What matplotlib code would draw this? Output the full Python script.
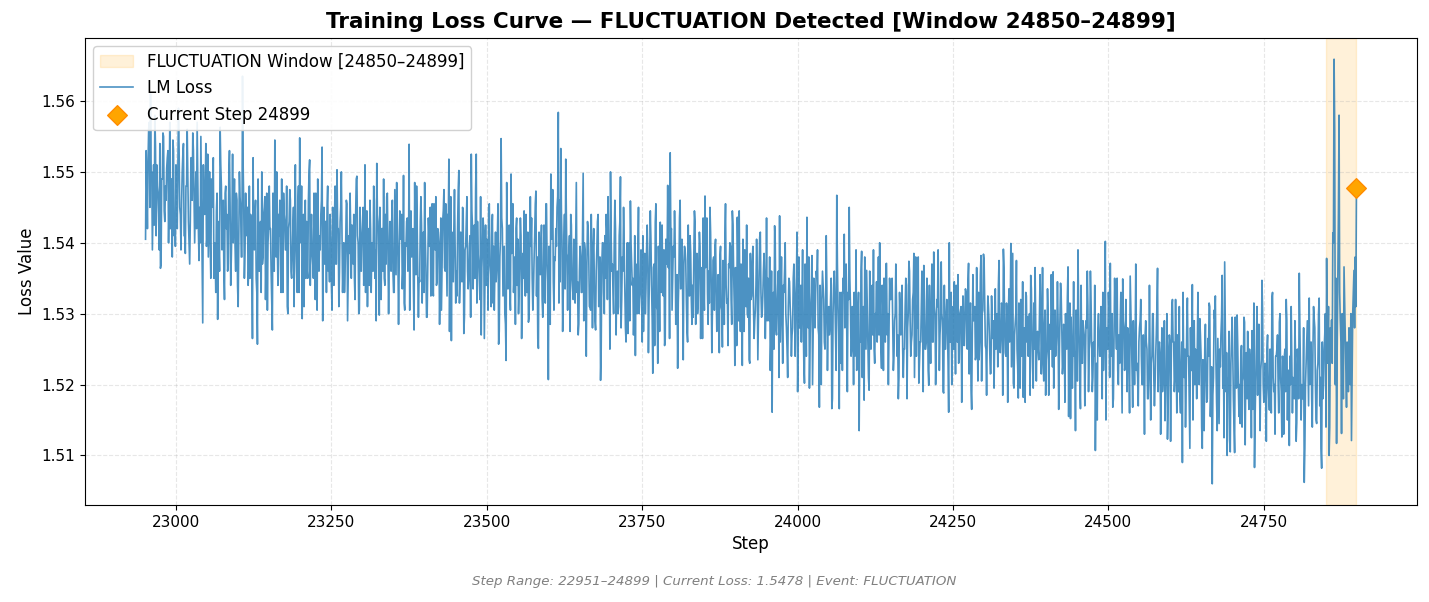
import numpy as np
import matplotlib
matplotlib.use("Agg")
import matplotlib.pyplot as plt

step_start = 22951
step_end = 24899
window_start = 24850
window_end = 24899
current_step = 24899
current_loss = 1.5478
event_name = "FLUCTUATION"

# readings at steps 22951, 22955, 22959, ... (every 4th step)
loss_part1 = [
    1.5405, 1.5515, 1.5610, 1.5455, 1.5535, 1.5470, 1.5364, 1.5555, 1.5480, 1.5530,
    1.5420, 1.5545, 1.5395, 1.5510, 1.5440, 1.5525, 1.5385, 1.5500, 1.5430, 1.5555,
    1.5450, 1.5495, 1.5400, 1.5287, 1.5470,
    1.5525, 1.5400, 1.5480, 1.5380, 1.5292, 1.5563, 1.5410, 1.5470, 1.5360, 1.5455,
    1.5525, 1.5395, 1.5340, 1.5465, 1.5635, 1.5385, 1.5450, 1.5350, 1.5265, 1.5440,
    1.5257, 1.5420, 1.5370, 1.5465, 1.5305,
    1.5420, 1.5277, 1.5545, 1.5395, 1.5460, 1.5350, 1.5430, 1.5310, 1.5475, 1.5380,
    1.5445, 1.5330, 1.5548, 1.5293, 1.5420, 1.5360, 1.5517, 1.5385, 1.5440, 1.5305,
    1.5410, 1.5535, 1.5370, 1.5450, 1.5345,
    1.5305, 1.5440, 1.5503, 1.5360, 1.5420, 1.5330, 1.5455, 1.5385, 1.5425, 1.5350,
    1.5494, 1.5305, 1.5410, 1.5365, 1.5445, 1.5340, 1.5400, 1.5460, 1.5512, 1.5298,
    1.5420, 1.5350, 1.5465, 1.5375, 1.5430,
]
loss_part2 = [
    1.5330, 1.5485, 1.5360, 1.5440, 1.5315, 1.5430, 1.5539, 1.5380, 1.5277, 1.5480,
    1.5350, 1.5425, 1.5330, 1.5295, 1.5410, 1.5365, 1.5455, 1.5340, 1.5400, 1.5305,
    1.5475, 1.5385, 1.5518, 1.5262, 1.5420,
    1.5360, 1.5502, 1.5380, 1.5272, 1.5430, 1.5350, 1.5525, 1.5395, 1.5525, 1.5370,
    1.5270, 1.5415, 1.5340, 1.5450, 1.5310, 1.5395, 1.5345, 1.5257, 1.5547, 1.5360,
    1.5234, 1.5405, 1.5497, 1.5330, 1.5420,
    1.5300, 1.5410, 1.5350, 1.5440, 1.5288, 1.5395, 1.5330, 1.5473, 1.5251, 1.5400,
    1.5340, 1.5455, 1.5207, 1.5497, 1.5345, 1.5420, 1.5584, 1.5533, 1.5330, 1.5518,
    1.5380, 1.5440, 1.5320, 1.5400, 1.5270,
    1.5380, 1.5498, 1.5340, 1.5420, 1.5305, 1.5390, 1.5277, 1.5440, 1.5206, 1.5400,
    1.5350, 1.5465, 1.5500, 1.5330, 1.5420, 1.5300, 1.5493, 1.5360, 1.5280, 1.5272,
    1.5459, 1.5350, 1.5241, 1.5390, 1.5330,
]
loss_part3 = [
    1.5410, 1.5300, 1.5380, 1.5445, 1.5216, 1.5429, 1.5230, 1.5429, 1.5330, 1.5264,
    1.5481, 1.5527, 1.5350, 1.5400, 1.5223, 1.5460, 1.5330, 1.5390, 1.5260, 1.5410,
    1.5340, 1.5430, 1.5300, 1.5395, 1.5265,
    1.5466, 1.5330, 1.5450, 1.5310, 1.5395, 1.5290, 1.5380, 1.5253, 1.5410, 1.5320,
    1.5400, 1.5445, 1.5227, 1.5436, 1.5320, 1.5227, 1.5390, 1.5300, 1.5230, 1.5370,
    1.5290, 1.5360, 1.5408, 1.5300, 1.5350,
    1.5290, 1.5380, 1.5161, 1.5424, 1.5310, 1.5438, 1.5290, 1.5360, 1.5250, 1.5345,
    1.5270, 1.5330, 1.5415, 1.5280, 1.5330, 1.5202, 1.5436, 1.5195, 1.5382, 1.5300,
    1.5350, 1.5168, 1.5320, 1.5260, 1.5340,
    1.5270, 1.5166, 1.5360, 1.5467, 1.5166, 1.5330, 1.5412, 1.5280, 1.5450, 1.5250,
    1.5330, 1.5220, 1.5135, 1.5388, 1.5178, 1.5361, 1.5192, 1.5320, 1.5250, 1.5345,
    1.5270, 1.5223, 1.5350, 1.5371, 1.5280,
    1.5330, 1.5240, 1.5320, 1.5210, 1.5300, 1.5250, 1.5340, 1.5374, 1.5260, 1.5385,
    1.5240, 1.5202, 1.5310, 1.5368, 1.5260, 1.5199, 1.5300, 1.5387, 1.5250, 1.5320,
    1.5373, 1.5188, 1.5300, 1.5161, 1.5330,
]
loss_part4 = [
    1.5250, 1.5340, 1.5230, 1.5310, 1.5260, 1.5330, 1.5371, 1.5192, 1.5290, 1.5240,
    1.5330, 1.5382, 1.5384, 1.5250, 1.5310, 1.5216, 1.5290, 1.5250, 1.5340, 1.5270,
    1.5391, 1.5240, 1.5300, 1.5399, 1.5202,
    1.5300, 1.5181, 1.5320, 1.5182, 1.5330, 1.5240, 1.5354, 1.5195, 1.5290, 1.5250,
    1.5310, 1.5230, 1.5185, 1.5300, 1.5250, 1.5359, 1.5240, 1.5290, 1.5343, 1.5230,
    1.5300, 1.5366, 1.5152, 1.5260, 1.5135,
    1.5390, 1.5166, 1.5290, 1.5230, 1.5310, 1.5360, 1.5210, 1.5107, 1.5280, 1.5240,
    1.5330, 1.5402, 1.5250, 1.5371, 1.5168, 1.5300, 1.5220, 1.5290, 1.5349, 1.5230,
    1.5280, 1.5353, 1.5168, 1.5260, 1.5210,
    1.5290, 1.5200, 1.5270, 1.5180, 1.5250, 1.5300, 1.5200, 1.5364, 1.5240, 1.5190,
    1.5149, 1.5123, 1.5260, 1.5320, 1.5210, 1.5270, 1.5180, 1.5090, 1.5250, 1.5322,
    1.5110, 1.5341, 1.5200, 1.5260, 1.5293,
]
loss_part5 = [
    1.5110, 1.5250, 1.5180, 1.5310, 1.5060, 1.5293, 1.5135, 1.5250, 1.5354, 1.5373,
    1.5100, 1.5121, 1.5295, 1.5104, 1.5298, 1.5200, 1.5140, 1.5288, 1.5180, 1.5250,
    1.5276, 1.5083, 1.5310, 1.5200, 1.5347,
    1.5180, 1.5250, 1.5164, 1.5322, 1.5200, 1.5250, 1.5288, 1.5126, 1.5240, 1.5291,
    1.5114, 1.5230, 1.5180, 1.5146, 1.5357, 1.5200, 1.5062, 1.5260, 1.5322, 1.5180,
    1.5293, 1.5145, 1.5322, 1.5082, 1.5250,
    1.5378, 1.5100, 1.5291, 1.5659, 1.5117, 1.5580, 1.5131, 1.5366, 1.5168, 1.5280,
    1.5121, 1.5361, 1.5478,
]

# readings at steps 22953, 22957, 22961, ... (every 4th step)
loss_mid1 = [
    1.5480, 1.5570, 1.5500, 1.5425, 1.5510, 1.5390, 1.5490, 1.5445, 1.5505, 1.5460,
    1.5490, 1.5410, 1.5470, 1.5530, 1.5455, 1.5410, 1.5480, 1.5400, 1.5520, 1.5470,
    1.5420, 1.5375, 1.5460, 1.5450, 1.5395,
    1.5440, 1.5490, 1.5350, 1.5445, 1.5400, 1.5480, 1.5360, 1.5420, 1.5500, 1.5380,
    1.5440, 1.5470, 1.5400, 1.5380, 1.5450, 1.5420, 1.5360, 1.5430, 1.5395, 1.5350,
    1.5410, 1.5330, 1.5440, 1.5380, 1.5420,
    1.5360, 1.5430, 1.5380, 1.5440, 1.5330, 1.5470, 1.5390, 1.5420, 1.5360, 1.5450,
    1.5400, 1.5480, 1.5400, 1.5440, 1.5350, 1.5460, 1.5410, 1.5350, 1.5470, 1.5390,
    1.5440, 1.5400, 1.5430, 1.5360, 1.5400,
    1.5400, 1.5370, 1.5420, 1.5450, 1.5370, 1.5400, 1.5350, 1.5420, 1.5370, 1.5440,
    1.5400, 1.5380, 1.5450, 1.5330, 1.5390, 1.5420, 1.5360, 1.5390, 1.5430, 1.5400,
    1.5360, 1.5440, 1.5380, 1.5420, 1.5360,
]
loss_mid2 = [
    1.5410, 1.5380, 1.5420, 1.5360, 1.5400, 1.5360, 1.5440, 1.5420, 1.5380, 1.5350,
    1.5430, 1.5380, 1.5410, 1.5370, 1.5450, 1.5340, 1.5390, 1.5420, 1.5350, 1.5430,
    1.5360, 1.5440, 1.5380, 1.5350, 1.5390,
    1.5420, 1.5350, 1.5450, 1.5390, 1.5360, 1.5410, 1.5420, 1.5350, 1.5430, 1.5320,
    1.5390, 1.5350, 1.5400, 1.5370, 1.5440, 1.5360, 1.5410, 1.5380, 1.5420, 1.5300,
    1.5380, 1.5330, 1.5420, 1.5380, 1.5340,
    1.5380, 1.5340, 1.5400, 1.5330, 1.5380, 1.5350, 1.5410, 1.5380, 1.5360, 1.5320,
    1.5390, 1.5370, 1.5350, 1.5420, 1.5380, 1.5450, 1.5460, 1.5400, 1.5440, 1.5370,
    1.5410, 1.5350, 1.5390, 1.5330, 1.5360,
    1.5330, 1.5400, 1.5370, 1.5310, 1.5380, 1.5340, 1.5390, 1.5320, 1.5370, 1.5300,
    1.5420, 1.5380, 1.5360, 1.5400, 1.5350, 1.5410, 1.5320, 1.5390, 1.5340, 1.5400,
    1.5370, 1.5310, 1.5360, 1.5300, 1.5380,
]
loss_mid3 = [
    1.5350, 1.5390, 1.5320, 1.5340, 1.5370, 1.5310, 1.5360, 1.5330, 1.5390, 1.5370,
    1.5400, 1.5420, 1.5380, 1.5310, 1.5350, 1.5380, 1.5370, 1.5320, 1.5360, 1.5320,
    1.5380, 1.5350, 1.5370, 1.5320, 1.5340,
    1.5380, 1.5360, 1.5340, 1.5380, 1.5330, 1.5350, 1.5310, 1.5360, 1.5340, 1.5370,
    1.5320, 1.5360, 1.5340, 1.5290, 1.5370, 1.5330, 1.5310, 1.5350, 1.5320, 1.5310,
    1.5340, 1.5300, 1.5330, 1.5360, 1.5310,
    1.5330, 1.5260, 1.5330, 1.5280, 1.5360, 1.5320, 1.5340, 1.5300, 1.5310, 1.5290,
    1.5350, 1.5300, 1.5260, 1.5340, 1.5290, 1.5330, 1.5280, 1.5310, 1.5270, 1.5330,
    1.5280, 1.5290, 1.5340, 1.5300, 1.5290,
    1.5320, 1.5300, 1.5270, 1.5310, 1.5260, 1.5350, 1.5300, 1.5330, 1.5310, 1.5290,
    1.5270, 1.5300, 1.5260, 1.5300, 1.5320, 1.5260, 1.5290, 1.5270, 1.5300, 1.5310,
    1.5290, 1.5310, 1.5260, 1.5300, 1.5320,
    1.5280, 1.5300, 1.5270, 1.5290, 1.5250, 1.5310, 1.5280, 1.5290, 1.5320, 1.5300,
    1.5280, 1.5260, 1.5290, 1.5250, 1.5310, 1.5270, 1.5260, 1.5300, 1.5310, 1.5270,
    1.5290, 1.5250, 1.5280, 1.5260, 1.5290,
]
loss_mid4 = [
    1.5290, 1.5260, 1.5300, 1.5270, 1.5300, 1.5250, 1.5290, 1.5270, 1.5310, 1.5280,
    1.5260, 1.5300, 1.5310, 1.5270, 1.5250, 1.5290, 1.5270, 1.5300, 1.5260, 1.5310,
    1.5280, 1.5290, 1.5260, 1.5300, 1.5270,
    1.5250, 1.5270, 1.5240, 1.5280, 1.5260, 1.5300, 1.5270, 1.5250, 1.5270, 1.5300,
    1.5260, 1.5280, 1.5250, 1.5270, 1.5300, 1.5260, 1.5280, 1.5240, 1.5280, 1.5270,
    1.5250, 1.5270, 1.5230, 1.5240, 1.5270,
    1.5260, 1.5240, 1.5270, 1.5280, 1.5250, 1.5260, 1.5240, 1.5230, 1.5270, 1.5290,
    1.5260, 1.5280, 1.5300, 1.5240, 1.5260, 1.5250, 1.5270, 1.5240, 1.5280, 1.5260,
    1.5230, 1.5260, 1.5240, 1.5220, 1.5260,
    1.5240, 1.5230, 1.5260, 1.5220, 1.5230, 1.5210, 1.5270, 1.5250, 1.5220, 1.5230,
    1.5200, 1.5250, 1.5230, 1.5260, 1.5240, 1.5190, 1.5220, 1.5230, 1.5200, 1.5240,
    1.5220, 1.5250, 1.5230, 1.5210, 1.5240,
]
loss_mid5 = [
    1.5200, 1.5220, 1.5240, 1.5190, 1.5210, 1.5230, 1.5200, 1.5270, 1.5240, 1.5190,
    1.5210, 1.5230, 1.5180, 1.5220, 1.5200, 1.5240, 1.5210, 1.5220, 1.5200, 1.5230,
    1.5180, 1.5210, 1.5240, 1.5220, 1.5200,
    1.5220, 1.5200, 1.5230, 1.5210, 1.5240, 1.5200, 1.5210, 1.5230, 1.5190, 1.5220,
    1.5200, 1.5210, 1.5240, 1.5230, 1.5220, 1.5180, 1.5200, 1.5230, 1.5210, 1.5250,
    1.5200, 1.5230, 1.5210, 1.5180, 1.5300,
    1.5230, 1.5280, 1.5414, 1.5200, 1.5350, 1.5290, 1.5220, 1.5280, 1.5248, 1.5200,
    1.5300, 1.5380,
]

# readings at the even steps 22952, 22954, 22956, ... (every 2nd step)
loss_even1 = [
    1.5530, 1.5420, 1.5560, 1.5450, 1.5500, 1.5390, 1.5510, 1.5580, 1.5410, 1.5480,
    1.5440, 1.5540, 1.5370, 1.5490, 1.5550, 1.5430, 1.5460, 1.5520, 1.5400, 1.5570,
    1.5490, 1.5380, 1.5530, 1.5440, 1.5510, 1.5420, 1.5590, 1.5450, 1.5390, 1.5500,
    1.5540, 1.5410, 1.5480, 1.5560, 1.5430, 1.5370, 1.5520, 1.5460, 1.5530, 1.5400,
    1.5500, 1.5570, 1.5420, 1.5450, 1.5550, 1.5380, 1.5510, 1.5440, 1.5540, 1.5410,
    1.5380, 1.5500, 1.5350, 1.5450, 1.5520, 1.5400, 1.5330, 1.5470, 1.5430, 1.5360,
    1.5510, 1.5390, 1.5460, 1.5320, 1.5480, 1.5440, 1.5370, 1.5530, 1.5340, 1.5430,
    1.5400, 1.5490, 1.5360, 1.5460, 1.5310, 1.5500, 1.5450, 1.5380, 1.5510, 1.5350,
    1.5470, 1.5410, 1.5340, 1.5480, 1.5440, 1.5370, 1.5520, 1.5390, 1.5460, 1.5330,
    1.5490, 1.5360, 1.5430, 1.5500, 1.5380, 1.5450, 1.5320, 1.5470, 1.5400, 1.5480,
    1.5420, 1.5320, 1.5470, 1.5360, 1.5450, 1.5500, 1.5340, 1.5410, 1.5370, 1.5490,
    1.5330, 1.5440, 1.5390, 1.5480, 1.5300, 1.5430, 1.5460, 1.5350, 1.5420, 1.5310,
    1.5510, 1.5360, 1.5450, 1.5330, 1.5410, 1.5480, 1.5380, 1.5310, 1.5460, 1.5430,
    1.5350, 1.5500, 1.5340, 1.5440, 1.5370, 1.5470, 1.5320, 1.5420, 1.5490, 1.5360,
    1.5390, 1.5460, 1.5290, 1.5450, 1.5430, 1.5330, 1.5480, 1.5380, 1.5440, 1.5340,
    1.5450, 1.5340, 1.5480, 1.5370, 1.5420, 1.5310, 1.5430, 1.5500, 1.5330, 1.5400,
    1.5360, 1.5460, 1.5290, 1.5410, 1.5470, 1.5350, 1.5380, 1.5440, 1.5320, 1.5490,
    1.5410, 1.5300, 1.5450, 1.5360, 1.5430, 1.5340, 1.5510, 1.5370, 1.5310, 1.5420,
    1.5460, 1.5330, 1.5400, 1.5480, 1.5350, 1.5290, 1.5440, 1.5380, 1.5450, 1.5320,
    1.5420, 1.5490, 1.5340, 1.5370, 1.5470, 1.5300, 1.5430, 1.5360, 1.5460, 1.5330,
]
loss_even2 = [
    1.5475, 1.5355, 1.5425, 1.5285, 1.5445, 1.5405, 1.5335, 1.5495, 1.5305, 1.5395,
    1.5435, 1.5375, 1.5305, 1.5445, 1.5405, 1.5335, 1.5485, 1.5355, 1.5425, 1.5295,
    1.5345, 1.5465, 1.5315, 1.5415, 1.5485, 1.5365, 1.5295, 1.5435, 1.5395, 1.5325,
    1.5455, 1.5325, 1.5395, 1.5465, 1.5345, 1.5415, 1.5285, 1.5435, 1.5365, 1.5445,
    1.5365, 1.5455, 1.5325, 1.5425, 1.5275, 1.5465, 1.5415, 1.5345, 1.5475, 1.5315,
    1.5325, 1.5475, 1.5315, 1.5415, 1.5345, 1.5445, 1.5295, 1.5395, 1.5465, 1.5335,
    1.5395, 1.5295, 1.5445, 1.5335, 1.5425, 1.5475, 1.5315, 1.5385, 1.5345, 1.5465,
    1.5365, 1.5435, 1.5265, 1.5425, 1.5405, 1.5305, 1.5455, 1.5355, 1.5415, 1.5315,
    1.5305, 1.5415, 1.5365, 1.5455, 1.5275, 1.5405, 1.5435, 1.5325, 1.5395, 1.5285,
    1.5485, 1.5335, 1.5425, 1.5305, 1.5385, 1.5455, 1.5355, 1.5285, 1.5435, 1.5405,
    1.5335, 1.5435, 1.5265, 1.5385, 1.5445, 1.5325, 1.5355, 1.5415, 1.5295, 1.5465,
    1.5435, 1.5305, 1.5375, 1.5455, 1.5325, 1.5265, 1.5415, 1.5355, 1.5425, 1.5295,
    1.5425, 1.5315, 1.5455, 1.5345, 1.5395, 1.5285, 1.5405, 1.5475, 1.5305, 1.5375,
    1.5395, 1.5465, 1.5315, 1.5345, 1.5445, 1.5275, 1.5405, 1.5335, 1.5435, 1.5305,
    1.5385, 1.5275, 1.5425, 1.5335, 1.5405, 1.5315, 1.5485, 1.5345, 1.5285, 1.5395,
    1.5330, 1.5420, 1.5290, 1.5390, 1.5240, 1.5430, 1.5380, 1.5310, 1.5440, 1.5280,
    1.5420, 1.5290, 1.5360, 1.5430, 1.5310, 1.5380, 1.5250, 1.5400, 1.5330, 1.5410,
    1.5440, 1.5320, 1.5390, 1.5250, 1.5410, 1.5370, 1.5300, 1.5460, 1.5270, 1.5360,
    1.5310, 1.5430, 1.5280, 1.5380, 1.5450, 1.5330, 1.5260, 1.5400, 1.5360, 1.5290,
    1.5400, 1.5340, 1.5270, 1.5410, 1.5370, 1.5300, 1.5450, 1.5320, 1.5390, 1.5260,
]
loss_even3 = [
    1.5275, 1.5385, 1.5335, 1.5425, 1.5245, 1.5375, 1.5405, 1.5295, 1.5365, 1.5255,
    1.5455, 1.5305, 1.5395, 1.5275, 1.5355, 1.5425, 1.5325, 1.5255, 1.5405, 1.5375,
    1.5365, 1.5265, 1.5415, 1.5305, 1.5395, 1.5445, 1.5285, 1.5355, 1.5315, 1.5435,
    1.5335, 1.5405, 1.5235, 1.5395, 1.5375, 1.5275, 1.5425, 1.5325, 1.5385, 1.5285,
    1.5295, 1.5445, 1.5285, 1.5385, 1.5315, 1.5415, 1.5265, 1.5365, 1.5435, 1.5305,
    1.5365, 1.5435, 1.5285, 1.5315, 1.5415, 1.5245, 1.5375, 1.5305, 1.5405, 1.5275,
    1.5355, 1.5245, 1.5395, 1.5305, 1.5375, 1.5285, 1.5455, 1.5315, 1.5255, 1.5365,
    1.5395, 1.5285, 1.5425, 1.5315, 1.5365, 1.5255, 1.5375, 1.5445, 1.5275, 1.5345,
    1.5405, 1.5275, 1.5345, 1.5425, 1.5295, 1.5235, 1.5385, 1.5325, 1.5395, 1.5265,
    1.5305, 1.5405, 1.5235, 1.5355, 1.5415, 1.5295, 1.5325, 1.5385, 1.5265, 1.5435,
    1.5350, 1.5290, 1.5220, 1.5360, 1.5320, 1.5250, 1.5400, 1.5270, 1.5340, 1.5210,
    1.5260, 1.5380, 1.5230, 1.5330, 1.5400, 1.5280, 1.5210, 1.5350, 1.5310, 1.5240,
    1.5280, 1.5370, 1.5240, 1.5340, 1.5190, 1.5380, 1.5330, 1.5260, 1.5390, 1.5230,
    1.5370, 1.5240, 1.5310, 1.5380, 1.5260, 1.5330, 1.5200, 1.5350, 1.5280, 1.5360,
    1.5390, 1.5270, 1.5340, 1.5200, 1.5360, 1.5320, 1.5250, 1.5410, 1.5220, 1.5310,
    1.5280, 1.5350, 1.5180, 1.5340, 1.5320, 1.5220, 1.5370, 1.5270, 1.5330, 1.5230,
    1.5220, 1.5330, 1.5280, 1.5370, 1.5190, 1.5320, 1.5350, 1.5240, 1.5310, 1.5200,
    1.5240, 1.5390, 1.5230, 1.5330, 1.5260, 1.5360, 1.5210, 1.5310, 1.5380, 1.5250,
    1.5310, 1.5210, 1.5360, 1.5250, 1.5340, 1.5390, 1.5230, 1.5300, 1.5260, 1.5380,
    1.5400, 1.5250, 1.5340, 1.5220, 1.5300, 1.5370, 1.5270, 1.5200, 1.5350, 1.5320,
]
loss_even4 = [
    1.5350, 1.5220, 1.5290, 1.5370, 1.5240, 1.5180, 1.5330, 1.5270, 1.5340, 1.5210,
    1.5250, 1.5350, 1.5180, 1.5300, 1.5360, 1.5240, 1.5270, 1.5330, 1.5210, 1.5380,
    1.5310, 1.5380, 1.5230, 1.5260, 1.5360, 1.5190, 1.5320, 1.5250, 1.5350, 1.5220,
    1.5340, 1.5230, 1.5370, 1.5260, 1.5310, 1.5200, 1.5320, 1.5390, 1.5220, 1.5290,
    1.5300, 1.5190, 1.5340, 1.5250, 1.5320, 1.5230, 1.5400, 1.5260, 1.5200, 1.5310,
    1.5345, 1.5215, 1.5285, 1.5355, 1.5235, 1.5305, 1.5175, 1.5325, 1.5255, 1.5335,
    1.5255, 1.5345, 1.5215, 1.5315, 1.5165, 1.5355, 1.5305, 1.5235, 1.5365, 1.5205,
    1.5235, 1.5355, 1.5205, 1.5305, 1.5375, 1.5255, 1.5185, 1.5325, 1.5285, 1.5215,
    1.5325, 1.5265, 1.5195, 1.5335, 1.5295, 1.5225, 1.5375, 1.5245, 1.5315, 1.5185,
    1.5365, 1.5245, 1.5315, 1.5175, 1.5335, 1.5295, 1.5225, 1.5385, 1.5195, 1.5285,
    1.5375, 1.5225, 1.5315, 1.5195, 1.5275, 1.5345, 1.5245, 1.5175, 1.5325, 1.5295,
    1.5285, 1.5185, 1.5335, 1.5225, 1.5315, 1.5365, 1.5205, 1.5275, 1.5235, 1.5355,
    1.5215, 1.5365, 1.5205, 1.5305, 1.5235, 1.5335, 1.5185, 1.5285, 1.5355, 1.5225,
    1.5195, 1.5305, 1.5255, 1.5345, 1.5165, 1.5295, 1.5325, 1.5215, 1.5285, 1.5175,
    1.5255, 1.5325, 1.5155, 1.5315, 1.5295, 1.5195, 1.5345, 1.5245, 1.5305, 1.5205,
    1.5310, 1.5200, 1.5340, 1.5230, 1.5280, 1.5170, 1.5290, 1.5360, 1.5190, 1.5260,
    1.5320, 1.5190, 1.5260, 1.5340, 1.5210, 1.5150, 1.5300, 1.5240, 1.5310, 1.5180,
    1.5220, 1.5320, 1.5150, 1.5270, 1.5330, 1.5210, 1.5240, 1.5300, 1.5180, 1.5350,
    1.5280, 1.5350, 1.5200, 1.5230, 1.5330, 1.5160, 1.5290, 1.5220, 1.5320, 1.5190,
    1.5270, 1.5160, 1.5310, 1.5220, 1.5290, 1.5200, 1.5370, 1.5230, 1.5170, 1.5280,
]
loss_even5 = [
    1.5320, 1.5200, 1.5270, 1.5130, 1.5290, 1.5250, 1.5180, 1.5340, 1.5150, 1.5240,
    1.5300, 1.5170, 1.5240, 1.5310, 1.5190, 1.5260, 1.5130, 1.5280, 1.5210, 1.5290,
    1.5210, 1.5300, 1.5170, 1.5270, 1.5120, 1.5310, 1.5260, 1.5190, 1.5320, 1.5160,
    1.5190, 1.5310, 1.5160, 1.5260, 1.5330, 1.5210, 1.5140, 1.5280, 1.5240, 1.5170,
    1.5280, 1.5220, 1.5150, 1.5290, 1.5250, 1.5180, 1.5330, 1.5200, 1.5270, 1.5140,
    1.5235, 1.5135, 1.5285, 1.5175, 1.5265, 1.5315, 1.5155, 1.5225, 1.5185, 1.5305,
    1.5325, 1.5175, 1.5265, 1.5145, 1.5225, 1.5295, 1.5195, 1.5125, 1.5275, 1.5245,
    1.5205, 1.5275, 1.5105, 1.5265, 1.5245, 1.5145, 1.5295, 1.5195, 1.5255, 1.5155,
    1.5145, 1.5255, 1.5205, 1.5295, 1.5115, 1.5245, 1.5275, 1.5165, 1.5235, 1.5125,
    1.5165, 1.5315, 1.5155, 1.5255, 1.5185, 1.5285, 1.5135, 1.5235, 1.5305, 1.5175,
    1.5230, 1.5120, 1.5270, 1.5180, 1.5250, 1.5160, 1.5330, 1.5190, 1.5130, 1.5240,
    1.5270, 1.5160, 1.5300, 1.5190, 1.5240, 1.5130, 1.5250, 1.5320, 1.5150, 1.5220,
    1.5240, 1.5310, 1.5160, 1.5190, 1.5290, 1.5120, 1.5250, 1.5180, 1.5280, 1.5150,
    1.5180, 1.5280, 1.5110, 1.5230, 1.5290, 1.5170, 1.5200, 1.5260, 1.5140, 1.5310,
    1.5280, 1.5150, 1.5220, 1.5300, 1.5170, 1.5110, 1.5260, 1.5200, 1.5270, 1.5140,
    1.5250, 1.5310, 1.5140, 1.5260, 1.5230, 1.5400, 1.5560, 1.5350, 1.5250, 1.5440,
    1.5330, 1.5260, 1.5300, 1.5180, 1.5320, 1.5220, 1.5260, 1.5190, 1.5250, 1.5300,
    1.5210, 1.5330, 1.5280, 1.5310,
]

loss_a = np.array(loss_part1 + loss_part2 + loss_part3 + loss_part4 + loss_part5)
loss_b = np.array(loss_mid1 + loss_mid2 + loss_mid3 + loss_mid4 + loss_mid5)
loss_c = np.array(loss_even1 + loss_even2 + loss_even3 + loss_even4 + loss_even5)

steps_a = np.arange(step_start, step_end + 1, 4)
steps_b = np.arange(step_start + 2, step_end, 4)
steps_c = np.arange(step_start + 1, step_end, 2)

na, nb, nc = (min(len(steps_a), len(loss_a)), min(len(steps_b), len(loss_b)),
              min(len(steps_c), len(loss_c)))
steps_all = np.concatenate([steps_a[:na], steps_b[:nb], steps_c[:nc]])
loss_all = np.concatenate([loss_a[:na], loss_b[:nb], loss_c[:nc]])
order = np.argsort(steps_all, kind="stable")
steps_all = steps_all[order]
loss_all = loss_all[order]

fig = plt.figure(figsize=(14.29, 6.02), dpi=100)
ax = fig.add_axes([85 / 1429, 1 - 505 / 602, (1417 - 85) / 1429, (505 - 38) / 602])

ax.axvspan(window_start, window_end, color="orange", alpha=0.15,
           label=f"{event_name} Window [{window_start}\u2013{window_end}]", zorder=1)
ax.plot(steps_all, loss_all, color="#1f77b4", alpha=0.8, linewidth=1.2, label="LM Loss", zorder=2)
ax.scatter([current_step], [current_loss], marker="D", s=100, color="orange",
           edgecolor="darkorange", zorder=5, label=f"Current Step {current_step}")

ax.set_title(f"Training Loss Curve \u2014 {event_name} Detected [Window {window_start}\u2013{window_end}]",
             fontsize=15.5, fontweight="bold", pad=7)
ax.set_xlabel("Step", fontsize=12)
ax.set_ylabel("Loss Value", fontsize=12)
ax.tick_params(labelsize=11)
ax.grid(True, linestyle="--", alpha=0.3)
ax.legend(loc="upper left", fontsize=12, framealpha=0.9)

fig.text(0.5, 1 - 582 / 602,
         f"Step Range: {step_start}\u2013{step_end} | Current Loss: {current_loss:.4f} | Event: {event_name}",
         ha="center", va="center", fontsize=9.6, style="italic", color="gray")

fig.savefig("out.png", dpi=100)
